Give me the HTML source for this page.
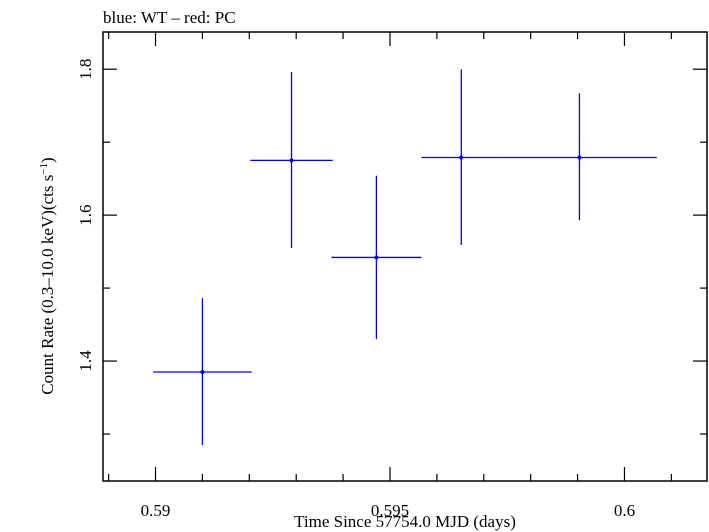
<!DOCTYPE html>
<html><head><meta charset="utf-8"><style>
body{margin:0;background:#fff}
svg{display:block;font-family:"Liberation Serif",serif}
</style></head><body>
<svg id="chart" width="709" height="532" viewBox="0 0 709 532">
<text x="103" y="23" font-size="17">blue: WT – red: PC</text>
<g id="axes"></g>
<g id="marks"></g>
<text x="405" y="527" font-size="17" text-anchor="middle">Time Since 57754.0 MJD (days)</text>
<text transform="translate(53,276) rotate(-90)" font-size="17" text-anchor="middle">Count Rate (0.3–10.0 keV)(cts s<tspan dy="-6" font-size="11">−1</tspan><tspan dy="6">)</tspan></text>
</svg>
<script>
const times=[0.5910,0.5929,0.59471,0.59652,0.59904];
const timeErrLo=[0.00105,0.00088,0.00096,0.00085,0.00165];
const timeErrHi=[0.00105,0.00088,0.00096,0.00087,0.00165];
const rates=[1.385,1.675,1.542,1.679,1.679];
const rateErrHi=[0.101,0.121,0.112,0.121,0.088];
const rateErrLo=[0.100,0.120,0.112,0.120,0.086];
const xTicks=[0.59,0.595,0.6];
const xTickLabels=["0.59","0.595","0.6"];
const yTicks=[1.4,1.6,1.8];
const yTickLabels=["1.4","1.6","1.8"];

const L=103,R=707,T=32,B=481;
const x0=0.58888,x1=0.60176,y0=1.2356,y1=1.851;
const X=v=>L+(v-x0)/(x1-x0)*(R-L);
const Y=v=>B-(v-y0)/(y1-y0)*(B-T);
const NS="http://www.w3.org/2000/svg";
function mk(tag,attrs,parent){const e=document.createElementNS(NS,tag);for(const k in attrs)e.setAttribute(k,attrs[k]);parent.appendChild(e);return e;}
const axes=document.getElementById('axes'),marks=document.getElementById('marks');
const frame=mk('rect',{x:L,y:T,width:R-L,height:B-T,fill:'none',stroke:'#000','stroke-width':1.5},axes);


// x ticks every 0.001
for(let i=0;i<=12;i++){const v=0.589+i*0.001;if(v>x1)break;const px=X(v);const major=Math.abs(v*200-Math.round(v*200))<1e-6;const len=major?14:7;
const t1=mk('line',{x1:px,x2:px,y1:B,y2:B-len,stroke:'#000','stroke-width':1.2},axes);


const t2=mk('line',{x1:px,x2:px,y1:T,y2:T+len,stroke:'#000','stroke-width':1.2},axes);

}
xTicks.forEach((v,i)=>{const t=mk('text',{x:X(v),y:B+35,'font-size':17,'text-anchor':'middle'},axes);t.textContent=xTickLabels[i];

});
// y ticks every 0.1
for(let i=0;i<6;i++){const v=1.3+i*0.1;const py=Y(v);const major=(i%2===1);const len=major?14:7;
const t1=mk('line',{x1:L,x2:L+len,y1:py,y2:py,stroke:'#000','stroke-width':1.2},axes);


const t2=mk('line',{x1:R,x2:R-len,y1:py,y2:py,stroke:'#000','stroke-width':1.2},axes);

}
yTicks.forEach((v,i)=>{const t=mk('text',{transform:`translate(91,${Y(v)}) rotate(-90)`,'font-size':17,'text-anchor':'middle'},axes);t.textContent=yTickLabels[i];

});
times.forEach((t,i)=>{
const g=mk('g',{},marks);


mk('line',{x1:X(t-timeErrLo[i]),x2:X(t+timeErrHi[i]),y1:Y(rates[i]),y2:Y(rates[i]),stroke:'#0000ff','stroke-width':1.3},g);
mk('line',{x1:X(t),x2:X(t),y1:Y(rates[i]-rateErrLo[i]),y2:Y(rates[i]+rateErrHi[i]),stroke:'#0000ff','stroke-width':1.3},g);
mk('circle',{cx:X(t),cy:Y(rates[i]),r:2,fill:'#0000ff'},g);
});
</script>
</body></html>
